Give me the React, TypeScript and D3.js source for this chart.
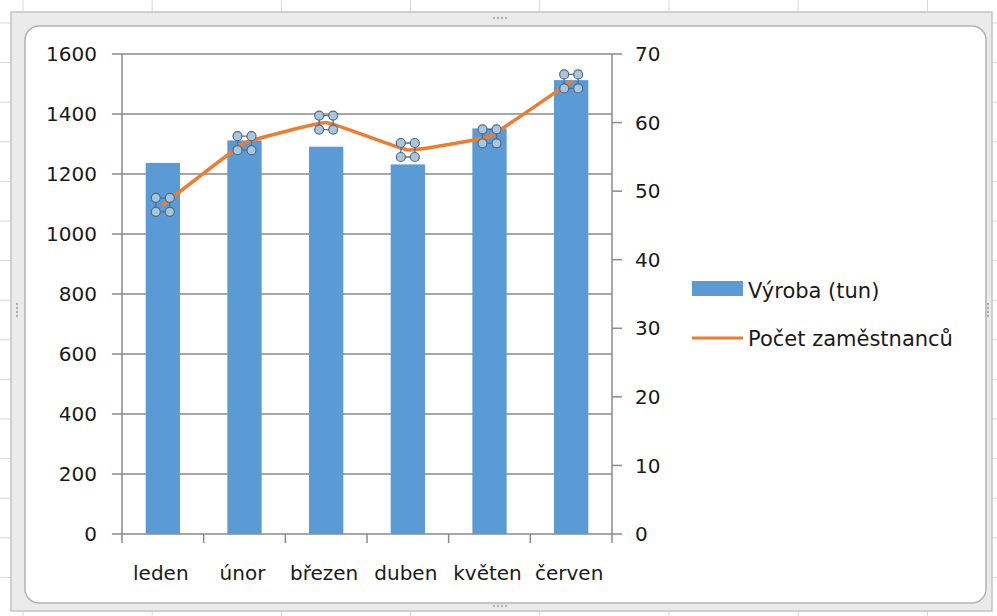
import React from "react";
import * as d3 from "d3";

const months = ["leden", "únor", "březen", "duben", "květen", "červen"];
const vyroba = [1237, 1312, 1291, 1232, 1352, 1513];
const zamestnanci = [48, 57, 60, 56, 58, 66];
const leftTicks = [0, 200, 400, 600, 800, 1000, 1200, 1400, 1600];
const rightTicks = [0, 10, 20, 30, 40, 50, 60, 70];

const W = 997;
const H = 616;
const font = "'DejaVu Sans', sans-serif";

const App = () => {
  // plot area
  const left = 122,
    right = 612,
    top = 54,
    bottom = 534;

  const x = d3.scaleBand().domain(months).range([left, right]);
  const yL = d3.scaleLinear().domain([0, 1600]).range([bottom, top]);
  const yR = d3.scaleLinear().domain([0, 70]).range([bottom, top]);
  const barW = x.bandwidth() * 0.42;
  const cx = (m) => x(m) + x.bandwidth() / 2;

  const line = d3
    .line()
    .x((d, i) => cx(months[i]))
    .y((d) => yR(d))
    .curve(d3.curveCardinal.tension(0.75));

  const gridColor = "#8a8a8a";

  // spreadsheet lines behind the chart object
  const sheetV = d3.range(23, W, 129.2);
  const sheetH = d3.range(23, H, 39.6);

  return (
    <svg width={W} height={H} style={{ position: "absolute", left: 0, top: 0, background: "#fff" }}>
      {/* sheet background */}
      {sheetV.map((v, i) => (
        <line key={"sv" + i} x1={v} x2={v} y1={0} y2={H} stroke="#d8d8d8" />
      ))}
      {sheetH.map((v, i) => (
        <line key={"sh" + i} x1={0} x2={W} y1={v} y2={v} stroke="#d8d8d8" />
      ))}
      {/* selection frame */}
      <rect x={11} y={12} width={981} height={599} fill="#ebebeb" stroke="#c4c4c4" strokeWidth={1.5} />
      <rect x={25} y={26} width={961} height={577} rx={14} fill="#fff" stroke="#b4b4b4" strokeWidth={1.5} />
      {[[500, 18], [500, 606], [17, 310], [988, 310]].map(([hx, hy], i) => (
        <g key={"hd" + i} fill="#b0b0b0">
          {[-6, -2, 2, 6].map((o) =>
            i < 2 ? <circle key={o} cx={hx + o} cy={hy} r={1.2} /> : <circle key={o} cx={hx} cy={hy + o} r={1.2} />
          )}
        </g>
      ))}

      {/* gridlines */}
      {leftTicks.map((t) => (
        <line key={"g" + t} x1={left - 10} x2={right} y1={yL(t)} y2={yL(t)} stroke={gridColor} strokeWidth={1.5} />
      ))}
      {rightTicks.map((t) => (
        <line key={"rt" + t} x1={right} x2={right + 10} y1={yR(t)} y2={yR(t)} stroke={gridColor} strokeWidth={1.5} />
      ))}
      {/* axes */}
      <line x1={left} x2={left} y1={top} y2={bottom} stroke={gridColor} strokeWidth={1.5} />
      <line x1={right} x2={right} y1={top} y2={bottom} stroke={gridColor} strokeWidth={1.5} />
      {months.map((m) => (
        <line key={"xt" + m} x1={x(m)} x2={x(m)} y1={bottom} y2={bottom + 9} stroke={gridColor} strokeWidth={1.5} />
      ))}
      <line x1={right} x2={right} y1={bottom} y2={bottom + 9} stroke={gridColor} strokeWidth={1.5} />

      {/* bars */}
      {months.map((m, i) => (
        <rect
          key={"b" + m}
          x={cx(m) - barW / 2}
          y={yL(vyroba[i])}
          width={barW}
          height={bottom - yL(vyroba[i])}
          fill="#5b9bd5"
        />
      ))}

      {/* line */}
      <path d={line(zamestnanci)} fill="none" stroke="#ed7d31" strokeWidth={3.5} strokeLinecap="round" />

      {/* selection handles on points */}
      {zamestnanci.map((v, i) => {
        const px = cx(months[i]);
        const py = yR(v);
        const pts = [
          [px - 7, py - 7],
          [px + 7, py - 7],
          [px + 7, py + 7],
          [px - 7, py + 7],
        ];
        return (
          <g key={"h" + i}>
            <polygon points={pts.map((p) => p.join(",")).join(" ")} fill="none" stroke="#5a6f84" strokeWidth={1.3} />
            {pts.map((p, j) => (
              <circle key={j} cx={p[0]} cy={p[1]} r={4.5} fill="#a9c6dc" stroke="#4f6b86" strokeWidth={1.2} />
            ))}
          </g>
        );
      })}

      {/* tick labels */}
      {leftTicks.map((t) => (
        <text key={"lt" + t} x={97} y={yL(t)} dy="0.36em" textAnchor="end" fontFamily={font} fontSize={20} fill="#1a1a1a">
          {t}
        </text>
      ))}
      {rightTicks.map((t) => (
        <text key={"rl" + t} x={635} y={yR(t)} dy="0.36em" textAnchor="start" fontFamily={font} fontSize={20} fill="#1a1a1a">
          {t}
        </text>
      ))}
      {months.map((m) => (
        <text key={"ml" + m} x={cx(m) - 2} y={580} textAnchor="middle" fontFamily={font} fontSize={20} fill="#1a1a1a">
          {m}
        </text>
      ))}

      {/* legend */}
      <rect x={692} y={281} width={51} height={15} fill="#5b9bd5" />
      <text x={748} y={298} fontFamily={font} fontSize={21} fill="#1a1a1a">
        Výroba (tun)
      </text>
      <line x1={692} x2={743} y1={338} y2={338} stroke="#ed7d31" strokeWidth={3} />
      <text x={748} y={346} fontFamily={font} fontSize={21} fill="#1a1a1a">
        Počet zaměstnanců
      </text>
    </svg>
  );
};

export default App;
